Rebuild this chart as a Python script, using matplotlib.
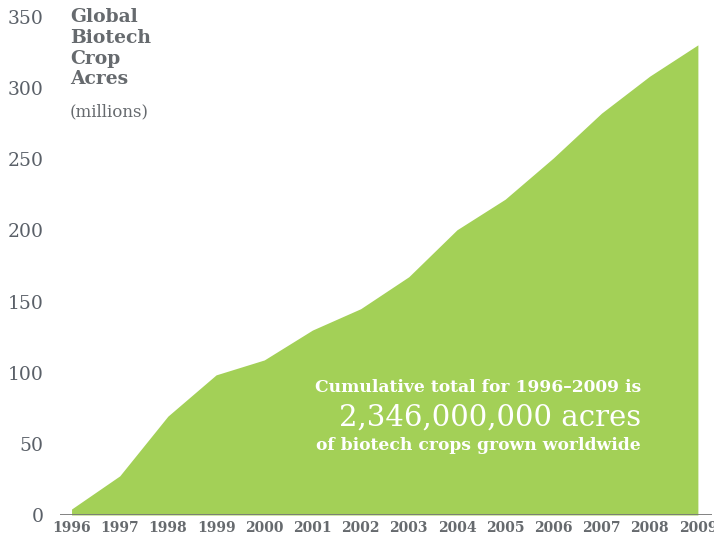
import matplotlib.pyplot as plt

years = [1996, 1997, 1998, 1999, 2000, 2001, 2002, 2003, 2004, 2005, 2006, 2007, 2008, 2009]
acres = [4.2, 27.5, 69.5, 98.5, 109, 130, 145, 167.5, 200.5, 222, 251, 282.5, 308.5, 330.5]
ytick_values = [0, 50, 100, 150, 200, 250, 300, 350]

green = "#a3d057"
gray = "#666a6e"

plt.rcParams["font.family"] = ["DejaVu Serif"]

fig = plt.figure(figsize=(7.14, 5.4), dpi=100)
ax = fig.add_axes([0.084, 0.0463, 0.913, 0.922])

ax.fill_between(years, acres, 0, color=green, linewidth=0)
ax.axhline(0, color="#777777", linewidth=2)

ax.set_xlim(1995.76, 2009.29)
ax.set_ylim(0, 350)

ax.set_yticks(ytick_values)
ax.set_yticklabels([str(v) for v in ytick_values], fontsize=13.5, color="#5a6068")
ax.set_xticks(years)
ax.set_xticklabels([str(y) for y in years], fontsize=10, fontweight="bold", color=gray)
ax.tick_params(axis="both", length=0)
ax.tick_params(axis="y", pad=12)
ax.tick_params(axis="x", pad=4)
for s in ax.spines.values():
    s.set_visible(False)

# title block in the upper left
fig.text(0.098, 0.985, "Global\nBiotech\nCrop\nAcres", fontsize=13.5, fontweight="bold",
         color=gray, va="top", ha="left", linespacing=1.2)
fig.text(0.098, 0.808, "(millions)", fontsize=12, color=gray, va="top", ha="left")

# white annotation inside the area
fig.text(0.898, 0.282, "Cumulative total for 1996\u20132009 is", fontsize=12.3, fontweight="bold",
         color="white", ha="right", va="center")
fig.text(0.898, 0.226, "2,346,000,000 acres", fontsize=21, color="white", ha="right", va="center")
fig.text(0.898, 0.175, "of biotech crops grown worldwide", fontsize=12.3, fontweight="bold",
         color="white", ha="right", va="center")

fig.savefig("out.png", dpi=100)
